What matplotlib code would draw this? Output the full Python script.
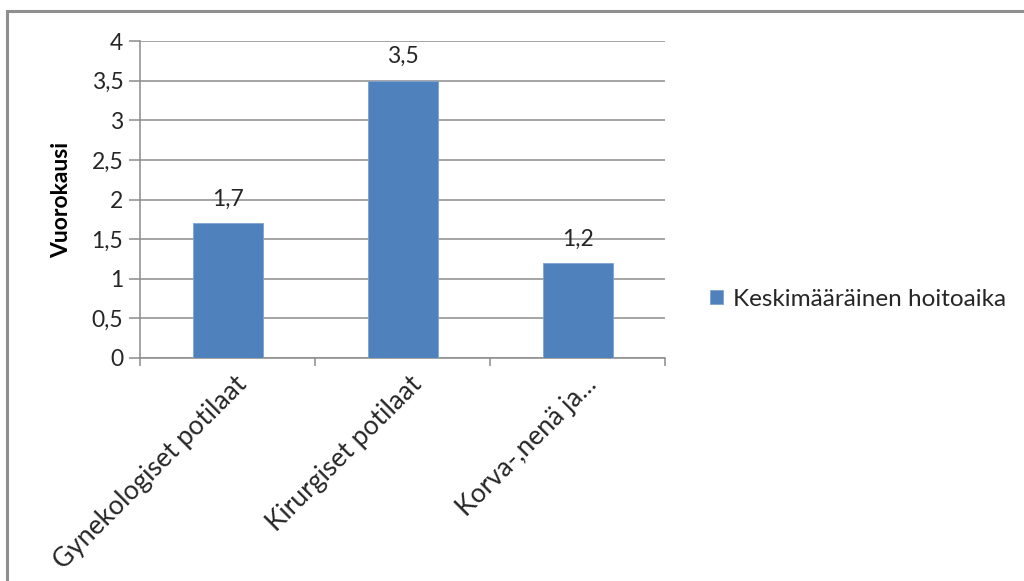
import matplotlib.pyplot as plt
from matplotlib.patches import Rectangle

# Average length of stay by patient group
categories = ["Gynekologiset potilaat", "Kirurgiset potilaat", "Korva-,nenä ja..."]
values = [1.7, 3.5, 1.2]
value_labels = ["1,7", "3,5", "1,2"]
yticks = [0, 0.5, 1, 1.5, 2, 2.5, 3, 3.5, 4]
ytick_labels = ["0", "0,5", "1", "1,5", "2", "2,5", "3", "3,5", "4"]

plt.rcParams["font.family"] = ["Lato", "DejaVu Sans"]

bar_color = "#4F81BD"
grid_color = "#8C8C8C"
text_color = "#262626"
fs = 16.5

fig = plt.figure(figsize=(10.24, 5.81), dpi=100)
fig.patch.set_facecolor("white")

# chart frame, running off the right and bottom edges
fig.patches.append(Rectangle((7 / 1024, -0.05), 1.1, 1 - 11 / 581 + 0.05,
                             transform=fig.transFigure, fill=False,
                             edgecolor="#8F8F8F", linewidth=2.2))

ax = fig.add_axes([140 / 1024, 1 - 358 / 581, 525 / 1024, 317 / 581])

x = list(range(len(categories)))
ax.bar(x, values, width=0.4, color=bar_color, edgecolor="#7FA3D3",
       linewidth=0.6, zorder=3, label="Keskimääräinen hoitoaika")

for xi, v, lab in zip(x, values, value_labels):
    ax.text(xi, v + 0.17, lab, ha="center", va="bottom",
            fontsize=fs, color=text_color)

ax.set_xlim(-0.5, len(categories) - 0.5)
ax.set_ylim(0, 4)
ax.set_yticks(yticks)
ax.set_yticklabels(ytick_labels, fontsize=fs, color=text_color)
ax.yaxis.grid(True, color=grid_color, linewidth=1.1, zorder=0)

# category boundaries carry the ticks, labels sit at bar centres
ax.set_xticks([i - 0.5 for i in range(len(categories) + 1)])
ax.set_xticklabels([])
ax.tick_params(axis="x", length=6, color=grid_color, width=1.1)
ax.tick_params(axis="y", length=8, color=grid_color, width=1.1, pad=4)

for xi, name in zip(x, categories):
    ax.annotate(name, xy=(xi, 0), xycoords="data",
                xytext=(11, -16), textcoords="offset points",
                rotation=45, rotation_mode="anchor",
                ha="right", va="center", fontsize=19, color=text_color)

for side in ["top", "right"]:
    ax.spines[side].set_visible(False)
ax.spines["left"].set_color(grid_color)
ax.spines["bottom"].set_color(grid_color)
ax.spines["left"].set_linewidth(1.1)
ax.spines["bottom"].set_linewidth(1.1)

ax.set_ylabel("Vuorokausi", fontsize=fs, fontweight="bold",
              color="black", labelpad=14)

fig.legend(loc="center left", bbox_to_anchor=(688 / 1024, 1 - 299 / 581),
           frameon=False, fontsize=17.5, handlelength=0.55, handleheight=0.55,
           handletextpad=0.4, labelcolor=text_color)

fig.savefig("out.png", dpi=100)
